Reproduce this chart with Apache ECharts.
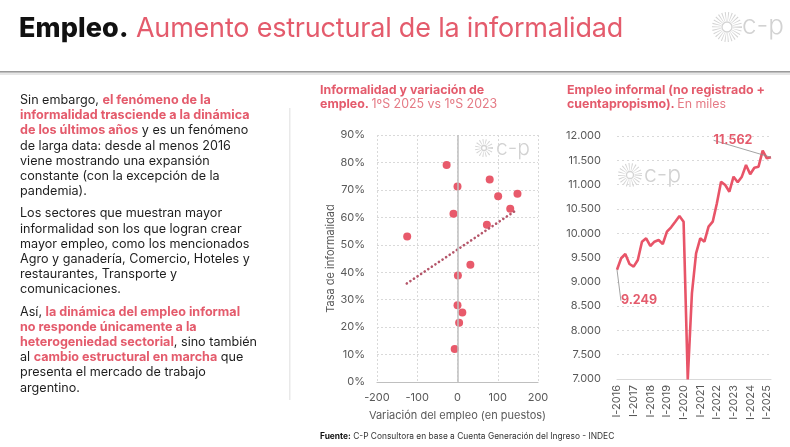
<!doctype html>
<html lang="es">
<head>
    <meta charset="UTF-8">
    <script src="https://cdn.jsdelivr.net/npm/echarts@6/dist/echarts.min.js"></script>
    <title>Empleo</title>
    <style>
        html, body { margin: 0; padding: 0; background: #fff; }
        body { width: 790px; height: 447px; position: relative; overflow: hidden; font-family: Inter, "Noto Sans", sans-serif; }
        #main { position: absolute; left: 0; top: 0; width: 790px; height: 447px; }
        .txt { position: absolute; white-space: nowrap; color: #1e1e1e; }
        .pk { color: #e45b6c; font-weight: 700; }
        .lt { color: #e57a85; font-weight: 400; }
        #head { left: 19px; top: 11px; font-size: 27px; letter-spacing: -0.2px; }
        #head b { color: #111; font-weight: 800; letter-spacing: 0.1px; }
        #head span { color: #e45b6c; font-weight: 400; }
        #body { left: 20px; top: 92px; font-size: 12.6px; line-height: 15.2px; }
        #body p { margin: 0 0 7px 0; }
        .ctitle { font-size: 12.4px; line-height: 14px; color: #e45b6c; font-weight: 700; }
        #foot { left: 320px; top: 431px; font-size: 8.4px; color: #333; }
    </style>
</head>
<body>
<div id="main"></div>
<div class="txt" id="head"><b>Empleo.</b> <span>Aumento estructural de la informalidad</span></div>
<div class="txt" id="body">
    <p>Sin embargo, <span class="pk">el fenómeno de la</span><br><span class="pk">informalidad trasciende a la dinámica</span><br><span class="pk">de los últimos años</span> y es un fenómeno<br>de larga data: desde al menos 2016<br>viene mostrando una expansión<br>constante (con la excepción de la<br>pandemia).</p>
    <p>Los sectores que muestran mayor<br>informalidad son los que logran crear<br>mayor empleo, como los mencionados<br>Agro y ganadería, Comercio, Hoteles y<br>restaurantes, Transporte y<br>comunicaciones.</p>
    <p>Así, <span class="pk">la dinámica del empleo informal</span><br><span class="pk">no responde únicamente a la</span><br><span class="pk">heterogeniedad sectorial</span>, sino también<br>al <span class="pk">cambio estructural en marcha</span> que<br>presenta el mercado de trabajo<br>argentino.</p>
</div>
<div class="txt ctitle" style="left:320px;top:83px;">Informalidad y variación de<br>empleo. <span class="lt">1ºS 2025 vs 1ºS 2023</span></div>
<div class="txt ctitle" style="left:567px;top:83px;">Empleo informal (no registrado +<br>cuentapropismo). <span class="lt">En miles</span></div>
<div class="txt" id="foot"><b style="color:#111">Fuente:</b> C-P Consultora en base a Cuenta Generación del Ingreso - INDEC</div>
<script type="text/javascript">
    // datos del gráfico de dispersión (variación en puestos, tasa de informalidad en %)
    var scatterX = [-27, 80, 0, 101, 149, 131, -10, 73, -125, 32, 1, 0, 12, 4, -7];
    var scatterY = [79.1, 73.8, 71.2, 67.7, 68.6, 63.1, 61.3, 57.3, 53.0, 42.7, 38.8, 28.0, 25.3, 21.6, 12.0];
    // línea de tendencia (extremos)
    var trendX = [-126, 149];
    var trendY = [35.9, 62.9];

    // empleo informal trimestral, en miles
    var quarters = ['I-2016', 'II-2016', 'III-2016', 'IV-2016', 'I-2017', 'II-2017', 'III-2017', 'IV-2017',
        'I-2018', 'II-2018', 'III-2018', 'IV-2018', 'I-2019', 'II-2019', 'III-2019', 'IV-2019',
        'I-2020', 'II-2020', 'III-2020', 'IV-2020', 'I-2021', 'II-2021', 'III-2021', 'IV-2021',
        'I-2022', 'II-2022', 'III-2022', 'IV-2022', 'I-2023', 'II-2023', 'III-2023', 'IV-2023',
        'I-2024', 'II-2024', 'III-2024', 'IV-2024', 'I-2025', 'II-2025'];
    var informal = [9249, 9484, 9572, 9366, 9311, 9449, 9825, 9895, 9737, 9825,
        9860, 9778, 10031, 10121, 10237, 10354, 10237, 6990, 8763, 9586,
        9895, 9825, 10134, 10237, 10615, 11060, 10992, 10854, 11163, 11047,
        11163, 11403, 11212, 11348, 11368, 11698, 11541, 11562];

    var pink = '#e45b6c';
    var gridColor = '#d9d9d9';
    var labelColor = '#595959';
    var font = 'Inter';

    function miles(v) {
        return String(v).replace(/\B(?=(\d{3})+(?!\d))/g, '.');
    }

    // logo del sol (anillo de rayos + círculo) y texto c-p
    function logo(cx, cy, rIn, rOut, size, tx, ty) {
        return {
            type: 'group', silent: true, children: [
                { type: 'circle', shape: { cx: cx, cy: cy, r: (rIn + rOut) / 2 },
                  style: { fill: 'none', stroke: '#d4d4d4', lineWidth: rOut - rIn, lineDash: [0.8, 1.7] } },
                { type: 'circle', shape: { cx: cx, cy: cy, r: rIn - 1 },
                  style: { fill: '#fff', stroke: '#d4d4d4', lineWidth: 1.3 } },
                { type: 'text', x: tx, y: ty,
                  style: { text: 'c-p', fill: '#d2d2d2', font: '300 ' + size + 'px Inter', verticalAlign: 'middle' } }
            ]
        };
    }

    var scatterData = scatterX.map(function (x, i) { return [x, scatterY[i]]; });
    var trendData = trendX.map(function (x, i) { return [x, trendY[i]]; });
    var last = informal.length - 1;
    var lineData = informal.map(function (v, i) {
        if (i === 0 || i === last) {
            return { value: v, label: { show: true, formatter: function (p) { return miles(p.value); } } };
        }
        return v;
    });

    var myChart = echarts.init(document.getElementById('main'));

    var option = {
        animation: false,
        textStyle: { fontFamily: font },
        graphic: [
            { type: 'rect', silent: true, shape: { x: 0, y: 72, width: 790, height: 3 },
              style: { fill: '#e6e6e6' } },
            { type: 'rect', silent: true, shape: { x: 0, y: 71, width: 790, height: 1.6 },
              style: { fill: '#9a9a9a' } },
            { type: 'rect', silent: true, shape: { x: 289, y: 108, width: 1.5, height: 292 },
              style: { fill: '#e9e9e9' } },
            logo(727, 27, 6, 15, 26, 742, 26),
            logo(484, 148, 3.5, 9, 21, 496, 149),
            logo(630, 175, 4.5, 12, 23, 644, 175)
        ],
        grid: [
            { left: 377, right: 252, top: 135, bottom: 65 },
            { left: 617, right: 19, top: 136, bottom: 68 }
        ],
        xAxis: [
            {
                gridIndex: 0, type: 'value', min: -200, max: 200, interval: 100,
                name: 'Variación del empleo (en puestos)', nameLocation: 'middle', nameGap: 28,
                nameTextStyle: { color: labelColor, fontSize: 11 },
                axisLine: { lineStyle: { color: '#bfbfbf', width: 1.2 } },
                axisTick: { show: false },
                axisLabel: { color: labelColor, fontSize: 11, margin: 10 },
                splitLine: { show: true, lineStyle: { color: gridColor, type: [2, 2] } }
            },
            {
                gridIndex: 1, type: 'category', data: quarters, boundaryGap: false,
                axisLine: { lineStyle: { color: gridColor, width: 1 } },
                axisTick: { show: false },
                axisLabel: { color: labelColor, fontSize: 11, rotate: 90, interval: 3, margin: 6 },
                splitLine: { show: false }
            }
        ],
        yAxis: [
            {
                gridIndex: 0, type: 'value', min: 0, max: 90, interval: 10,
                name: 'Tasa de informalidad', nameLocation: 'middle', nameGap: 37, nameRotate: 90,
                nameTextStyle: { color: labelColor, fontSize: 11 },
                axisLine: { show: false }, axisTick: { show: false },
                axisLabel: { color: labelColor, fontSize: 11, margin: 12, formatter: '{value}%' },
                splitLine: { lineStyle: { color: gridColor, type: [2, 2] } }
            },
            {
                gridIndex: 1, type: 'value', min: 7000, max: 12000, interval: 500,
                axisLine: { show: false }, axisTick: { show: false },
                axisLabel: { color: labelColor, fontSize: 11, margin: 16, formatter: miles },
                splitLine: { lineStyle: { color: gridColor, type: [2, 3] } }
            }
        ],
        series: [
            {
                type: 'scatter', xAxisIndex: 0, yAxisIndex: 0, data: scatterData,
                symbolSize: 8, itemStyle: { color: '#e85a6b', opacity: 1 },
                markLine: {
                    silent: true, symbol: 'none', label: { show: false },
                    lineStyle: { color: '#bfbfbf', type: 'solid', width: 1.5 },
                    data: [{ xAxis: 0 }]
                },
                z: 3
            },
            {
                type: 'line', xAxisIndex: 0, yAxisIndex: 0, data: trendData,
                showSymbol: false, symbol: 'none',
                lineStyle: { color: '#b5566a', width: 2.6, type: [0.1, 4.2], cap: 'round' },
                z: 4
            },
            {
                type: 'line', xAxisIndex: 1, yAxisIndex: 1, data: lineData,
                symbol: 'circle', symbolSize: 0, showSymbol: true, clip: true,
                lineStyle: { color: '#e85468', width: 2.6 },
                itemStyle: { color: '#e85468' },
                label: { show: false, color: pink, fontWeight: 700, fontSize: 12.5, position: 'inside' },
                labelLine: { show: true, lineStyle: { color: '#8c8c8c', width: 0.8 } },
                labelLayout: function (p) {
                    if (p.dataIndex === 0) return { dx: 22, dy: 31 };
                    if (p.dataIndex === last) return { dx: -38, dy: -17 };
                    return {};
                }
            }
        ]
    };

    myChart.setOption(option);
</script>
</body>
</html>
